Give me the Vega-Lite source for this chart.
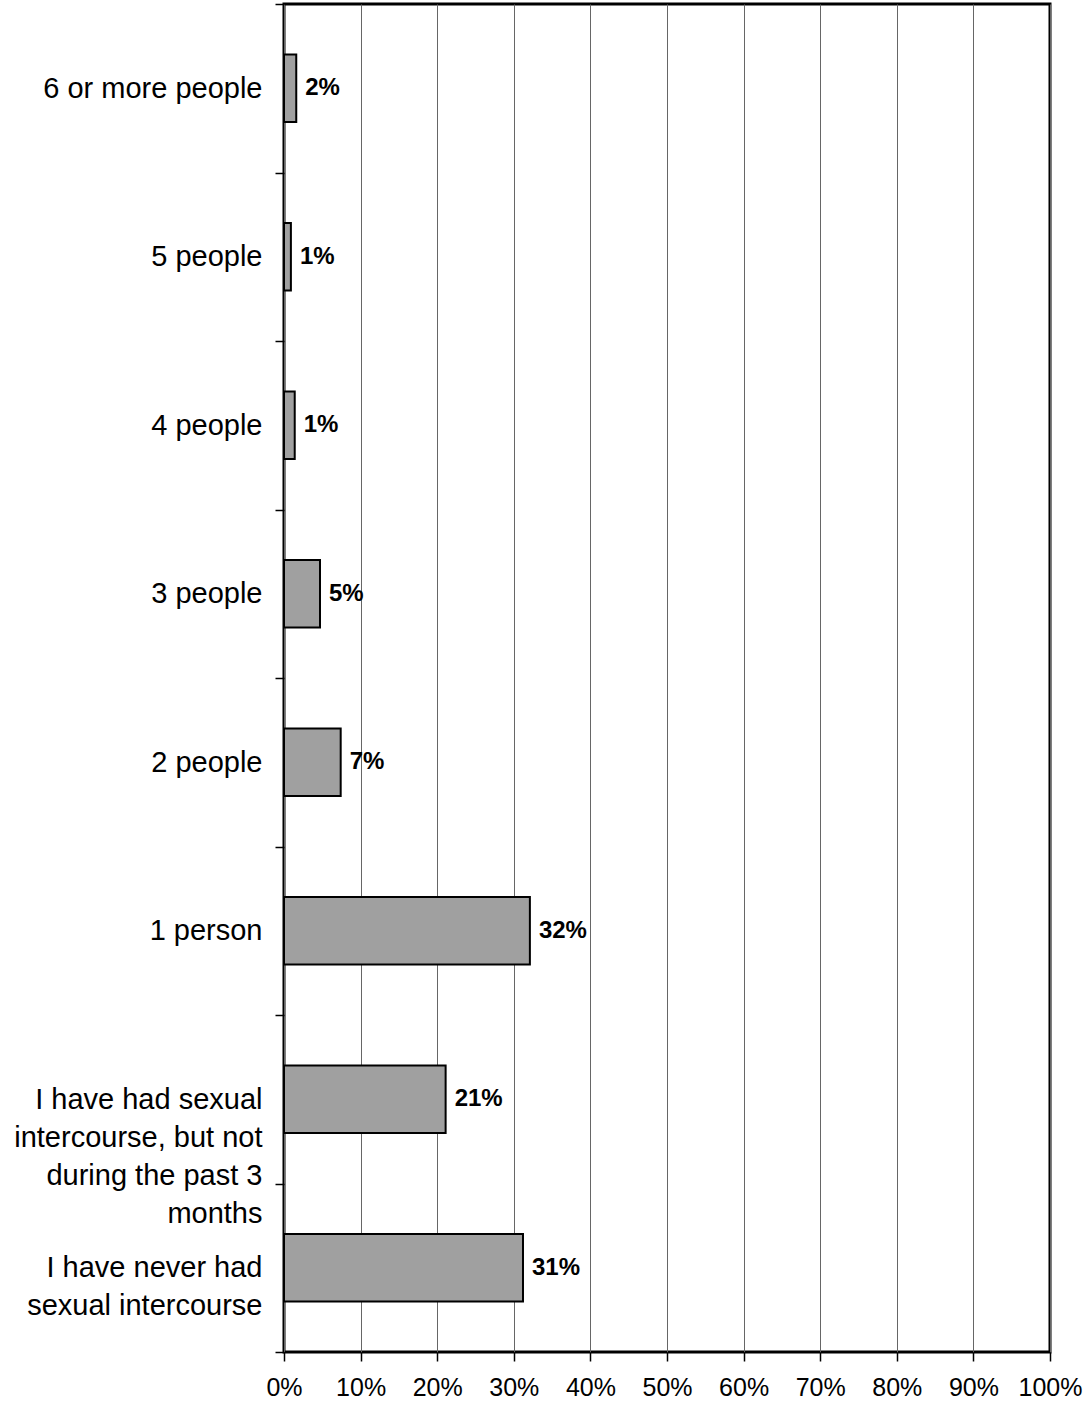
{
  "$schema": "https://vega.github.io/schema/vega-lite/v6.json",
  "autosize": {"type": "none"},
  "padding": {"left": 284, "top": 4, "right": 42, "bottom": 49},
  "width": 766,
  "height": 1348,
  "background": "white",
  "config": {
    "font": "Liberation Sans",
    "view": {"stroke": "black", "strokeWidth": 3}
  },
  "data": {
    "values": [
      {"category": "6 or more people", "value": 0.016},
      {"category": "5 people", "value": 0.009},
      {"category": "4 people", "value": 0.014},
      {"category": "3 people", "value": 0.047},
      {"category": "2 people", "value": 0.074},
      {"category": "1 person", "value": 0.321},
      {"category": "I have had sexual|intercourse, but not|during the past 3|months", "value": 0.211},
      {"category": "I have never had|sexual intercourse", "value": 0.312}
    ]
  },
  "layer": [
    {
      "mark": {"type": "bar", "fill": "#a0a0a0", "stroke": "black", "strokeWidth": 2, "height": {"band": 0.4}},
      "encoding": {
        "y": {
          "field": "category",
          "type": "nominal",
          "sort": null,
          "scale": {"paddingInner": 0, "paddingOuter": 0},
          "axis": {
            "title": null,
            "domain": false,
            "grid": false,
            "tickBand": "extent",
            "ticks": true,
            "tickSize": 9,
            "tickColor": "black",
            "tickWidth": 1.5,
            "labelExpr": "split(datum.label, '|')",
            "labelFontSize": 29,
            "labelColor": "black",
            "labelLineHeight": 38,
            "labelLimit": 400,
            "labelPadding": 13
          }
        },
        "x": {
          "field": "value",
          "type": "quantitative",
          "scale": {"domain": [0, 1], "nice": false},
          "axis": {
            "title": null,
            "orient": "bottom",
            "format": ".0%",
            "values": [0, 0.1, 0.2, 0.3, 0.4, 0.5, 0.6, 0.7, 0.8, 0.9, 1],
            "domain": false,
            "grid": true,
            "gridColor": "#666666",
            "gridWidth": 1,
            "gridOpacity": 1,
            "ticks": true,
            "tickSize": 9,
            "tickColor": "black",
            "tickWidth": 1.5,
            "labelFontSize": 25,
            "labelColor": "black",
            "labelPadding": 14,
            "labelFlush": false
          }
        }
      }
    },
    {
      "mark": {"type": "text", "align": "left", "baseline": "middle", "dx": 9, "fontSize": 24, "fontWeight": "bold", "color": "black"},
      "encoding": {
        "y": {"field": "category", "type": "nominal", "sort": null},
        "x": {"field": "value", "type": "quantitative"},
        "text": {"field": "value", "type": "quantitative", "format": ".0%"}
      }
    }
  ]
}
